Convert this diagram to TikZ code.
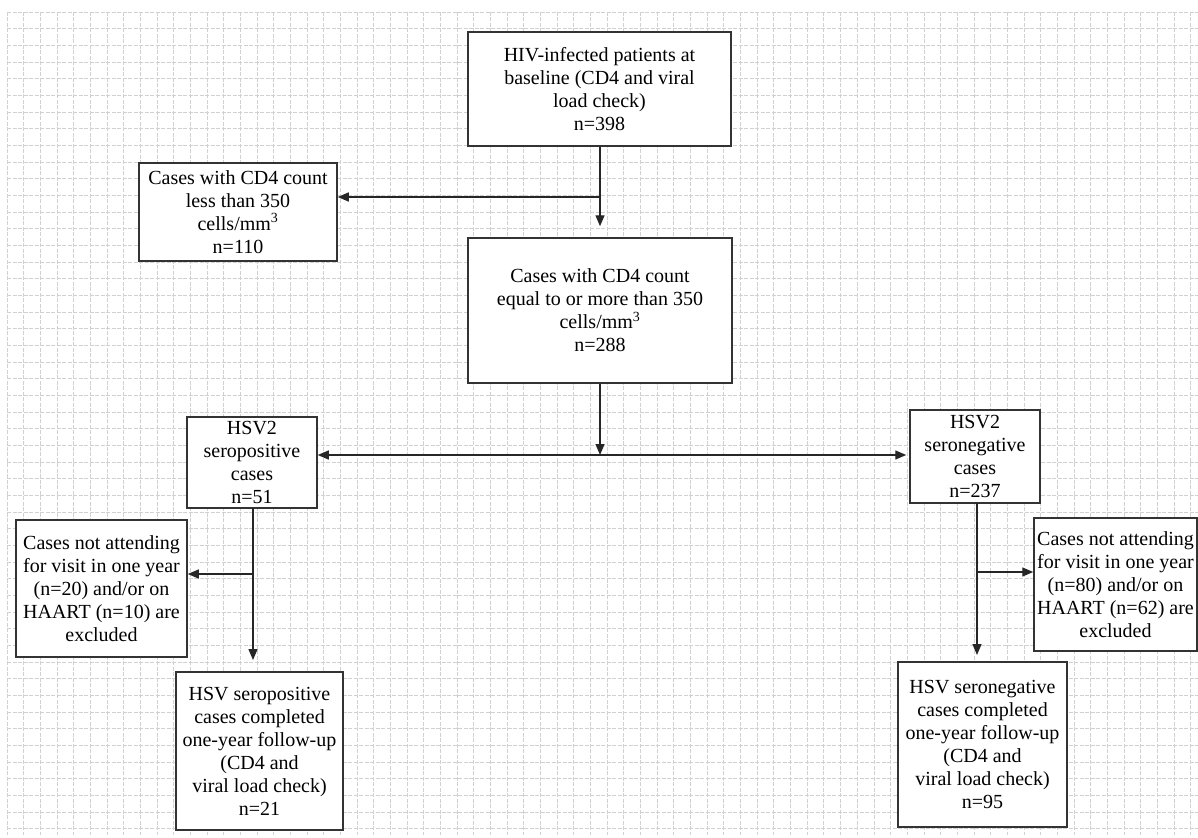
\documentclass[tikz,border=0pt]{standalone}
\usepackage{fontspec}
\setmainfont{Liberation Serif}
\usetikzlibrary{arrows.meta}
\begin{document}
\begin{tikzpicture}[x=1pt,y=-1pt,
  box/.style={draw=black!80, line width=1.5pt, fill=white, align=center, inner sep=2pt,
    font=\fontsize{20}{23}\selectfont, anchor=center},
  conn/.style={draw=black!85, line width=1.3pt},
  arr/.style={conn, -{Triangle[length=11pt,width=9pt]}},
  gridline/.style={draw=black!18, line width=0.7pt, dash pattern=on 4pt off 1.5pt}]
\fill[white] (0,0) rectangle (1198,837);
\useasboundingbox (0,0) rectangle (1198,837);
\foreach \i in {0,...,71} { \draw[gridline] ({7+16.67*\i},12) -- ({7+16.67*\i},835); }
\foreach \j in {0,...,49} { \draw[gridline] (7,{12+16.67*\j}) -- (1198,{12+16.67*\j}); }

\node[box, minimum width=263pt, minimum height=114pt] (top) at (599.5,89)
  {HIV-infected patients at\\ baseline (CD4 and viral\\ load check)\\ n=398};
\node[box, minimum width=198pt, minimum height=98pt] (low) at (238,212)
  {Cases with CD4 count\\ less than 350\\ cells/mm\textsuperscript{3}\\ n=110};
\node[box, minimum width=264pt, minimum height=145pt] (mid) at (600,310.5)
  {Cases with CD4 count\\ equal to or more than 350\\ cells/mm\textsuperscript{3}\\ n=288};
\node[box, minimum width=130pt, minimum height=91pt] (pos) at (252,462.5)
  {HSV2\\ seropositive\\ cases\\ n=51};
\node[box, minimum width=130pt, minimum height=93pt] (neg) at (975,456.5)
  {HSV2\\ seronegative\\ cases\\ n=237};
\node[box, minimum width=171pt, minimum height=137pt] (exl) at (101.5,588.5)
  {Cases not attending\\ for visit in one year\\ (n=20) and/or on\\ HAART (n=10) are\\ excluded};
\node[box, minimum width=163pt, minimum height=133pt] (exr) at (1115.5,584.5)
  {Cases not attending\\ for visit in one year\\ (n=80) and/or on\\ HAART (n=62) are\\ excluded};
\node[box, minimum width=167pt, minimum height=158pt] (botl) at (259.5,751)
  {HSV seropositive\\ cases completed\\ one-year follow-up\\ (CD4 and\\ viral load check)\\ n=21};
\node[box, minimum width=169pt, minimum height=165pt] (botr) at (982.5,744.5)
  {HSV seronegative\\ cases completed\\ one-year follow-up\\ (CD4 and\\ viral load check)\\ n=95};

% top -> mid with branch to low
\coordinate (j1) at (600,197);
\draw[arr] (top.south -| j1) -- ([yshift=11pt]mid.north -| j1);
\draw[arr] (j1) -- (low.east |- j1);

% mid -> junction -> pos / neg
\coordinate (j2) at (600,455);
\draw[arr] (mid.south -| j2) -- (j2);
\draw[arr] (j2) -- (pos.east |- j2);
\draw[arr] (j2) -- ([xshift=-3pt]neg.west |- j2);

% pos -> botl with branch
\coordinate (pv) at (253,508);
\coordinate (j3) at (253,574);
\coordinate (pe) at (253,660);
\draw[arr] (pv) -- (pe);
\draw[arr] (j3) -- (exl.east |- j3);

% neg -> botr with branch
\coordinate (nv) at (977,503);
\coordinate (j4) at (977,572);
\coordinate (ne) at (977,655);
\draw[arr] (nv) -- (ne);
\draw[arr] (j4) -- (exr.west |- j4);
\end{tikzpicture}
\end{document}
